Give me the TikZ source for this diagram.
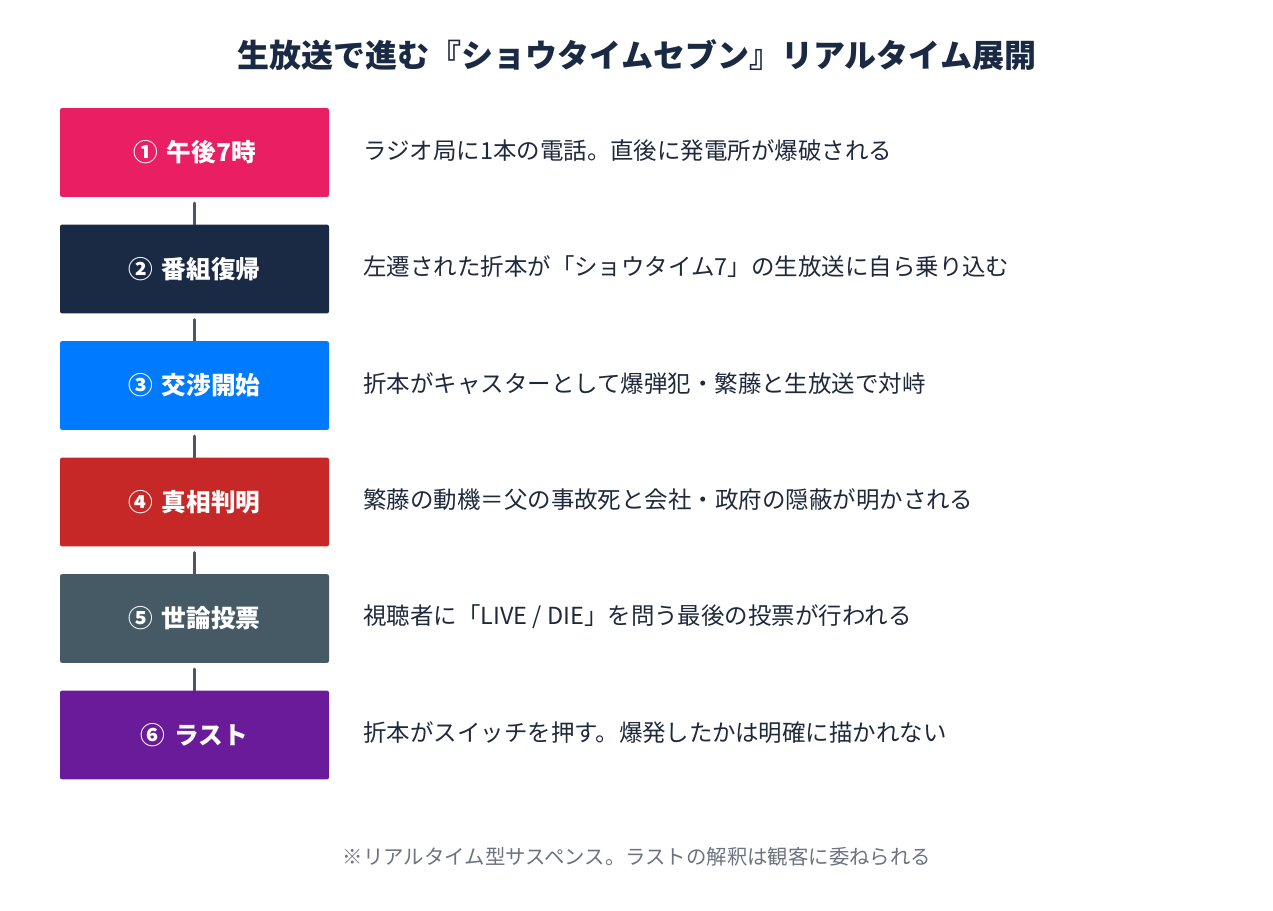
\documentclass[tikz,border=0pt]{standalone}
\usepackage{fontspec}
\setmainfont{Noto Sans CJK JP}
\usetikzlibrary{backgrounds}
\definecolor{pinkcolor}{HTML}{E91E63}
\definecolor{navycolor}{HTML}{1B2A44}
\definecolor{bluecolor}{HTML}{007BFF}
\definecolor{redcolor}{HTML}{C62828}
\definecolor{slatecolor}{HTML}{455A64}
\definecolor{purplecolor}{HTML}{6A1B9A}
\definecolor{textcolor}{HTML}{1E293B}
\definecolor{notecolor}{HTML}{6B7280}
\definecolor{conncolor}{HTML}{4A5568}

\begin{document}
\begin{tikzpicture}[x=0.75pt,y=-0.75pt,
  stepbox/.style={rounded corners=1.5pt, minimum width=201.75pt, minimum height=66.5pt,
    inner sep=0pt, text=white, font=\bfseries\fontsize{18.5}{22}\selectfont},
  desc/.style={anchor=west, inner sep=0pt, text=textcolor, font=\fontsize{17.6}{21}\selectfont},
  conn/.style={draw=conncolor, line width=2.25pt, line cap=round}]
  \useasboundingbox (0,0) rectangle (1273,910);
  \def\dy{116.5}   % pitch of the steps
  \node[text=navycolor, font=\bfseries\fontsize{24}{28}\selectfont] (title) at (637,55)
    {生放送で進む『ショウタイムセブン』リアルタイム展開};
  \foreach \i/\col/\lab/\txt in {
    1/pinkcolor/{①\hspace{0.36em}午後7時}/{ラジオ局に1本の電話。直後に発電所が爆破される},
    2/navycolor/{②\hspace{0.36em}番組復帰}/{左遷された折本が「ショウタイム7」の生放送に自ら乗り込む},
    3/bluecolor/{③\hspace{0.36em}交渉開始}/{折本がキャスターとして爆弾犯・繁藤と生放送で対峙},
    4/redcolor/{④\hspace{0.36em}真相判明}/{繁藤の動機＝父の事故死と会社・政府の隠蔽が明かされる},
    5/slatecolor/{⑤\hspace{0.36em}世論投票}/{視聴者に「LIVE / DIE」を問う最後の投票が行われる},
    6/purplecolor/{⑥\hspace{0.36em}ラスト}/{折本がスイッチを押す。爆発したかは明確に描かれない}} {
    \node[stepbox, fill=\col] (b\i) at (194.5,{152.5+(\i-1)*\dy}) {\raisebox{1.5pt}{\lab}};
    \node[desc] (d\i) at (363,{150.5+(\i-1)*\dy}) {\txt};
  }
  \begin{scope}[on background layer]
    \foreach \i [evaluate=\i as \j using int(\i+1)] in {1,...,5} {
      \draw[conn] ([yshift=-4.5pt]b\i.south) -- (b\j.north);
    }
  \end{scope}
  \node[text=notecolor, font=\fontsize{15.3}{18}\selectfont] (note) at (637,857)
    {※リアルタイム型サスペンス。ラストの解釈は観客に委ねられる};
\end{tikzpicture}
\end{document}
